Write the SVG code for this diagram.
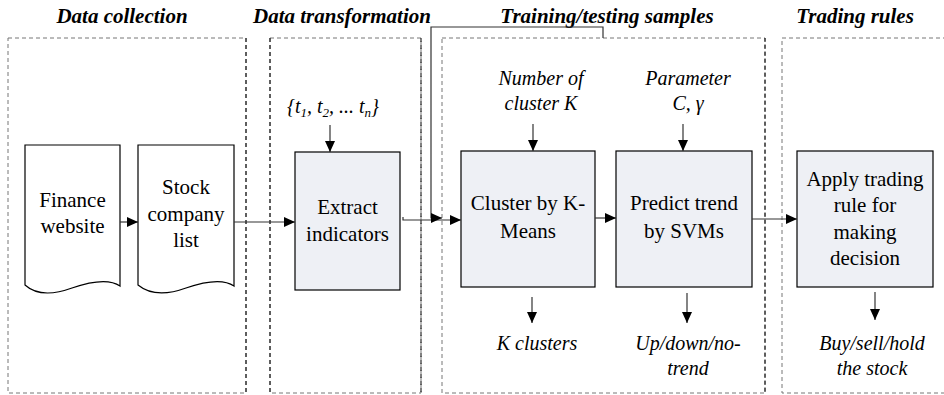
<svg xmlns="http://www.w3.org/2000/svg" width="944" height="395" viewBox="0 0 944 395">
<style>
.title{font-size:21px;font-weight:bold;font-style:italic;fill:#000;text-anchor:middle}
.lbl{font-size:20px;font-style:italic;fill:#000;text-anchor:middle}
.txt{font-size:21px;fill:#000;text-anchor:middle}
.doc{fill:#fff;stroke:#000;stroke-width:1.2}
.proc{fill:#eef0f5;stroke:#000;stroke-width:1.2}
.lane{fill:none;stroke:#777;stroke-width:1;stroke-dasharray:4,3}
.laneb{fill:none;stroke:#000;stroke-width:1;stroke-dasharray:4,3}
.con{fill:none;stroke:#333;stroke-width:1.2;marker-end:url(#ah)}
</style>
<defs>
<marker id="ah" viewBox="0 0 11 10" refX="11" refY="5" markerWidth="11" markerHeight="10" markerUnits="userSpaceOnUse" orient="auto">
<path d="M0,0 L11,5 L0,10 z" fill="#000"/>
</marker>
</defs>

<g id="lanes">
<rect class="lane" x="8" y="38" width="238" height="355"/>
<line class="laneb" x1="246" y1="38" x2="246" y2="395"/>
<rect class="lane" x="270" y="38" width="151" height="355"/>
<line class="laneb" x1="270" y1="38" x2="270" y2="395"/>
<line class="laneb" x1="421" y1="38" x2="421" y2="395"/>
<rect class="lane" x="442" y="38" width="323" height="355"/>
<line class="laneb" x1="765" y1="38" x2="765" y2="395"/>
<rect class="lane" x="782" y="38" width="170" height="355"/>
</g>

<g font-family="Liberation Serif, Tinos, Times New Roman, DejaVu Serif, serif">
<g id="titles">
<text class="title" x="122" y="23">Data collection</text>
<text class="title" x="342" y="23">Data transformation</text>
<text class="title" x="607" y="23">Training/testing samples</text>
<text class="title" x="855" y="23">Trading rules</text>
</g>

<g id="finance">
<path class="doc" d="M25,145 H120 V286 C110,279 95,280 72,288 C50,296 35,294 25,285 Z"/>
<text class="txt" x="72.5" y="207">Finance</text>
<text class="txt" x="72.5" y="233">website</text>
</g>

<g id="stock">
<path class="doc" d="M138,145 H234 V286 C224,279 209,280 186,288 C164,296 149,294 138,285 Z"/>
<text class="txt" x="186" y="194">Stock</text>
<text class="txt" x="186" y="221">company</text>
<text class="txt" x="186" y="247">list</text>
</g>

<g id="extract">
<rect class="proc" x="295" y="152" width="105" height="138"/>
<text class="txt" x="347.5" y="214">Extract</text>
<text class="txt" x="347.5" y="241">indicators</text>
</g>

<g id="cluster">
<rect class="proc" x="461" y="151" width="134" height="136"/>
<text class="txt" x="528" y="210">Cluster by K-</text>
<text class="txt" x="528" y="238">Means</text>
</g>

<g id="predict">
<rect class="proc" x="616" y="151" width="136" height="136"/>
<text class="txt" x="684" y="210">Predict trend</text>
<text class="txt" x="684" y="238">by SVMs</text>
</g>

<g id="apply">
<rect class="proc" x="797" y="151" width="136" height="136"/>
<text class="txt" x="865" y="186">Apply trading</text>
<text class="txt" x="865" y="212">rule for</text>
<text class="txt" x="865" y="239">making</text>
<text class="txt" x="865" y="265">decision</text>
</g>

<g id="labels">
<text class="lbl" x="333" y="113">{<tspan>t</tspan><tspan font-size="13" dy="4">1</tspan><tspan dy="-4">, t</tspan><tspan font-size="13" dy="4">2</tspan><tspan dy="-4">, ... t</tspan><tspan font-size="13" dy="4">n</tspan><tspan dy="-4">}</tspan></text>
<text class="lbl" x="541" y="85">Number of</text>
<text class="lbl" x="541" y="110">cluster K</text>
<text class="lbl" x="688" y="85">Parameter</text>
<text class="lbl" x="688" y="110">C, γ</text>
<text class="lbl" x="537" y="350">K clusters</text>
<text class="lbl" x="688" y="350">Up/down/no-</text>
<text class="lbl" x="688" y="375">trend</text>
<text class="lbl" x="872" y="350">Buy/sell/hold</text>
<text class="lbl" x="872" y="375">the stock</text>
</g>
</g>

<g id="connectors">
<path class="con" d="M120,222 H138"/>
<path class="con" d="M234,222 H295"/>
<path class="con" d="M330,125 V152"/>
<path class="con" d="M403,217 V220 H461"/>
<path class="con" d="M603,38 V27 H431 V218 H442"/>
<path class="con" d="M533,124 V151"/>
<path class="con" d="M683,124 V151"/>
<path class="con" d="M595,218 H616"/>
<path class="con" d="M752,219 H797"/>
<path class="con" d="M532,297 V323"/>
<path class="con" d="M687,293 V323"/>
<path class="con" d="M875,292 V320"/>
</g>
</svg>
